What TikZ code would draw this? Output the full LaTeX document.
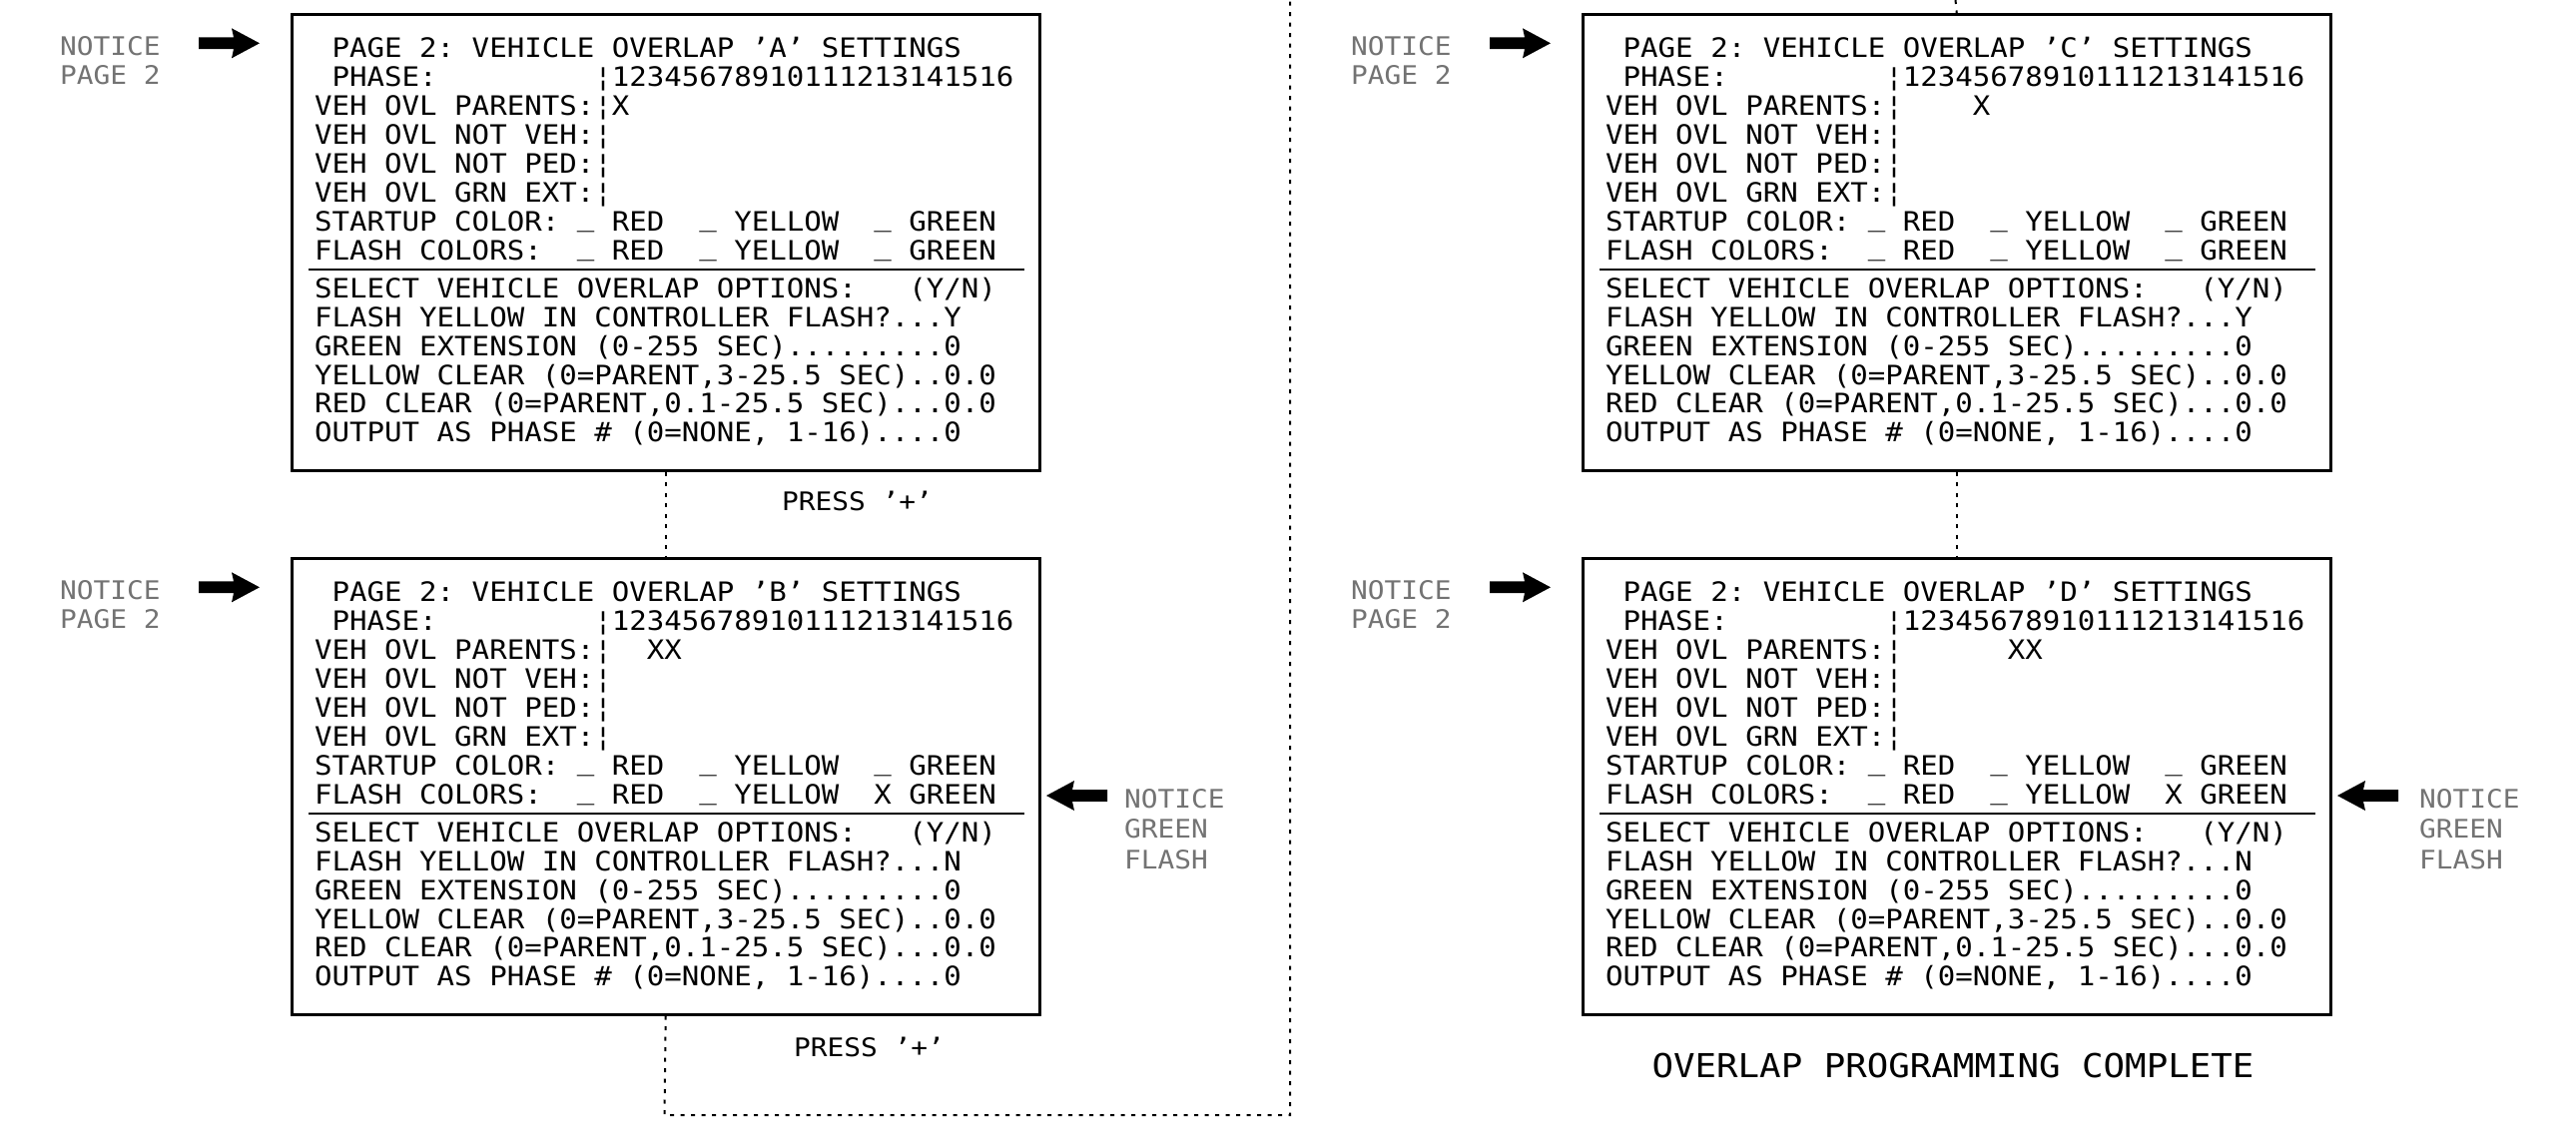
\documentclass[tikz,border=0pt]{standalone}
\usepackage{fontspec}
\newfontfamily\cad[FakeStretch=1.087]{DejaVu Sans Mono}
\usetikzlibrary{calc}
\definecolor{notegray}{gray}{0.45}
\newcommand\us{\raisebox{5pt}{\_}}
\newcommand\ovlbody[4]{%
\rule{0pt}{25pt}~PAGE~2:~VEHICLE~OVERLAP~’#1’~SETTINGS\\
~PHASE:~~~~~~~~~¦12345678910111213141516\\
VEH~OVL~PARENTS:¦#2\\
VEH~OVL~NOT~VEH:¦\\
VEH~OVL~NOT~PED:¦\\
VEH~OVL~GRN~EXT:¦\\
STARTUP~COLOR:~\us~RED~~\us~YELLOW~~\us~GREEN\\
FLASH~COLORS:~~\us~RED~~\us~YELLOW~~#3~GREEN\\[9.4pt]
SELECT~VEHICLE~OVERLAP~OPTIONS:~~~(Y/N)\\
FLASH~YELLOW~IN~CONTROLLER~FLASH?...#4\\
GREEN~EXTENSION~(0-255~SEC).........0\\
YELLOW~CLEAR~(0=PARENT,3-25.5~SEC)..0.0\\
RED~CLEAR~(0=PARENT,0.1-25.5~SEC)...0.0\\
OUTPUT~AS~PHASE~\#~(0=NONE,~1-16)....0}
\newcommand\fatR[2]{\fill (#1-61,#2-5.9) -- (#1-26,#2-5.9) -- (#1-28,#2-15) -- (#1,#2) -- (#1-28,#2+15) -- (#1-26,#2+5.9) -- (#1-61,#2+5.9) -- cycle;}
\newcommand\fatL[2]{\fill (#1+61,#2-5.9) -- (#1+26,#2-5.9) -- (#1+28,#2-15) -- (#1,#2) -- (#1+28,#2+15) -- (#1+26,#2+5.9) -- (#1+61,#2+5.9) -- cycle;}
\begin{document}
\begin{tikzpicture}[x=1pt,y=-1pt,
  screen/.style={draw, line width=2.5pt, minimum width=749pt, minimum height=457pt, anchor=north west, inner sep=0pt},
  boxtext/.style={font=\cad\frenchspacing\fontsize{26.75}{28.9}\selectfont, align=left, inner sep=0pt, anchor=north west},
  sepline/.style={line width=2pt},
  conn/.style={line width=2pt, dash pattern=on 4pt off 6.5pt},
  note/.style={font=\cad\frenchspacing\fontsize{25.6}{29.5}\selectfont, text=notegray, align=left, inner sep=0pt, anchor=north west},
  notetr/.style={font=\cad\frenchspacing\fontsize{25.6}{30.5}\selectfont, text=notegray, align=left, inner sep=0pt, anchor=north west},
  press/.style={font=\cad\frenchspacing\fontsize{25.6}{29.5}\selectfont, inner sep=0pt, anchor=base west}]
\useasboundingbox (0,0) rectangle (2580,1141);
% screens
\node[screen] (A) at (291,13) {};
\node[screen] (B) at (291,558) {};
\node[screen] (C) at (1584,13) {};
\node[screen] (D) at (1584,558) {};
% texts
\node[boxtext] (At) at (315,32.5) {\ovlbody{A}{X}{\us}{Y}};
\node[boxtext] (Bt) at (315,577.5) {\ovlbody{B}{~~XX}{X}{N}};
\node[boxtext] (Ct) at (1608,32.5) {\ovlbody{C}{~~~~X}{\us}{Y}};
\node[boxtext] (Dt) at (1608,577.5) {\ovlbody{D}{~~~~~~XX}{X}{N}};
% separators
\foreach \b in {A,B,C,D}{
  \draw[sepline] ($(\b.north west)+(18,257)$) -- ($(\b.north east)+(-17,257)$);
}
% notice labels
\node[note] (An) at (60,33) {\rule{0pt}{22pt}NOTICE\\PAGE~2};
\node[note] (Bn) at (60,578) {\rule{0pt}{22pt}NOTICE\\PAGE~2};
\node[note] (Cn) at (1353,33) {\rule{0pt}{22pt}NOTICE\\PAGE~2};
\node[note] (Dn) at (1353,578) {\rule{0pt}{22pt}NOTICE\\PAGE~2};
\node[notetr] (Bg) at (1126,787) {\rule{0pt}{22pt}NOTICE\\GREEN\\FLASH};
\node[notetr] (Dg) at (2423,787) {\rule{0pt}{22pt}NOTICE\\GREEN\\FLASH};
% arrows
\fatR{260}{43.3}
\fatR{260}{588.3}
\fatR{1553}{43.3}
\fatR{1553}{588.3}
\fatL{1048}{797}
\fatL{2341}{797}
% press labels
\node[press] (P1) at (783,511.7) {PRESS~’+’};
\node[press] (P2) at (795,1058) {PRESS~’+’};
\node[font=\cad\frenchspacing\fontsize{32.9}{36}\selectfont, inner sep=0pt, anchor=base] (done) at (1956,1079) {OVERLAP~PROGRAMMING~COMPLETE};
% connectors
\coordinate (loopL) at (665.5,1117);
\coordinate (loopR) at (1292,1117);
\coordinate (loopT) at (1292,0);
\coordinate (cT) at (1958.5,0);
\draw[conn] (A.south) -- (B.north);
\draw[conn] (B.south) -- (loopL) -- (loopR) -- (loopT);
\draw[conn] (cT) -- (C.north);
\draw[conn] (C.south) -- (D.north);
\end{tikzpicture}
\end{document}
